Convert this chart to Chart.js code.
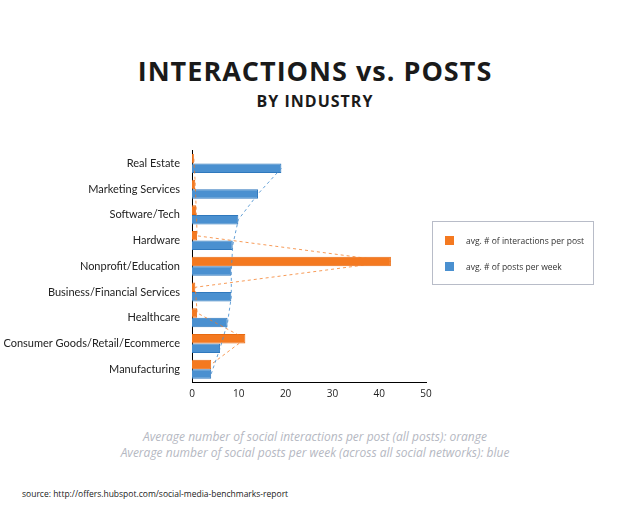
<!DOCTYPE html>
<html><head><meta charset="utf-8">
<script src="https://cdn.jsdelivr.net/npm/chart.js@4"></script>
<style>
body{margin:0;width:630px;height:508px;background:#fff;font-family:"Open Sans",sans-serif;position:relative;overflow:hidden}
.t1{position:absolute;top:52px;width:630px;text-align:center;font-weight:bold;font-size:27px;letter-spacing:1px;color:#1a1a1a}
.t2{position:absolute;top:90px;width:630px;text-align:center;font-weight:bold;font-size:16px;letter-spacing:1px;color:#1a1a1a}
#wrap{position:absolute;left:0;top:140px;width:630px;height:262px}
.legend{position:absolute;left:432px;top:221px;width:160px;height:62px;border:1px solid #b8bcc8;font-size:8.5px;color:#333}
.legend div{position:absolute;left:12px;display:flex;align-items:center}
.legend span{display:inline-block;width:9px;height:9px;margin-right:12px}
.cap{position:absolute;width:630px;text-align:center;font-style:italic;font-size:12px;color:#b5b8c2}
.src{position:absolute;left:22px;top:488px;font-size:8.5px;color:#222}
</style></head><body>
<div class="t1">INTERACTIONS vs. POSTS</div>
<div class="t2">BY INDUSTRY</div>
<div id="wrap"><canvas id="c"></canvas></div>
<div class="legend">
  <div style="top:13px"><span style="background:#f47920"></span>avg. # of interactions per post</div>
  <div style="top:39px"><span style="background:#4a90d0"></span>avg. # of posts per week</div>
</div>
<div class="cap" style="top:428px">Average number of social interactions per post (all posts): orange</div>
<div class="cap" style="top:444px">Average number of social posts per week (across all social networks): blue</div>
<div class="src">source: http://offers.hubspot.com/social-media-benchmarks-report</div>
<script>
const industries = ['Real Estate','Marketing Services','Software/Tech','Hardware','Nonprofit/Education','Business/Financial Services','Healthcare','Consumer Goods/Retail/Ecommerce','Manufacturing'];
const interactions = [0.4, 0.7, 0.9, 1.1, 42.5, 0.7, 1.1, 11.4, 4.1];
const postsPerWeek = [19.1, 14.1, 9.9, 8.7, 8.4, 8.4, 7.6, 6.0, 4.1];
const xTicks = [0, 10, 20, 30, 40, 50];

const orange = '#f47920', blue = '#4a90d0';

// dashed connectors through the ends of each series' bars
const connectors = {
  id: 'connectors',
  afterDatasetsDraw(chart) {
    const ctx = chart.ctx;
    const styles = ['rgba(244,121,32,0.75)', 'rgba(74,144,208,0.85)'];
    [0, 1].forEach(d => {
      const bars = chart.getDatasetMeta(d).data;
      ctx.save();
      ctx.strokeStyle = styles[d];
      ctx.lineWidth = 1;
      ctx.setLineDash([3, 3]);
      ctx.beginPath();
      bars.forEach((b, i) => i ? ctx.lineTo(b.x, b.y) : ctx.moveTo(b.x, b.y));
      ctx.stroke();
      ctx.restore();
    });
  }
};

new Chart(document.getElementById('c'), {
  type: 'bar',
  data: {
    labels: industries,
    datasets: [
      {label: 'avg. # of interactions per post', data: interactions, backgroundColor: orange, borderColor: '#e86a10', borderWidth: 1},
      {label: 'avg. # of posts per week', data: postsPerWeek, backgroundColor: blue, borderColor: '#2f78bd', borderWidth: 1}
    ]
  },
  plugins: [connectors],
  options: {
    indexAxis: 'y',
    responsive: true, maintainAspectRatio: false, animation: false,
    datasets: {bar: {categoryPercentage: 0.74, barPercentage: 1}},
    layout: {padding: {left: 0, right: 204, top: 6, bottom: 0}},
    plugins: {legend: {display: false}, tooltip: {enabled: false}},
    scales: {
      x: {
        min: 0, max: 50,
        afterBuildTicks: s => { s.ticks = xTicks.map(v => ({value: v})); },
        grid: {display: false, drawTicks: true, tickLength: 4, color: '#000'},
        border: {color: '#000', width: 1},
        ticks: {color: '#222', font: {family: 'Open Sans', size: 10}, padding: 2}
      },
      y: {
        afterFit: s => { s.width = 192; },
        grid: {display: false},
        border: {color: '#000', width: 1},
        ticks: {color: '#222', font: {family: 'Lato', size: 11}, padding: 4}
      }
    }
  }
});
</script>
</body></html>
